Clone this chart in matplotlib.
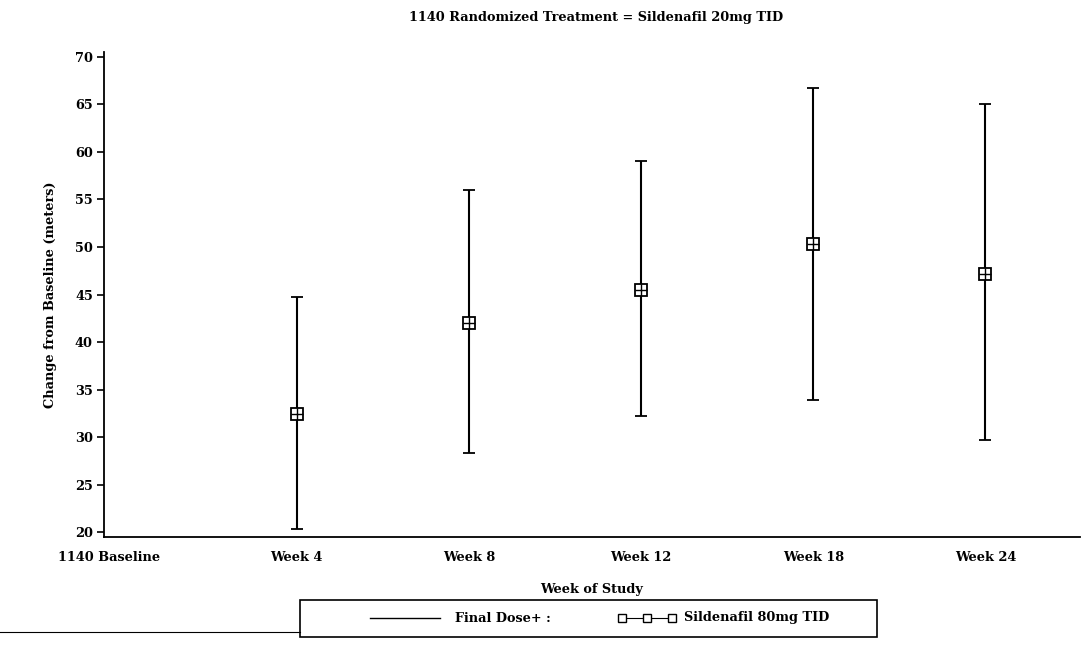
import matplotlib
matplotlib.use("Agg")
import matplotlib.pyplot as plt
from matplotlib.lines import Line2D
from matplotlib.patches import Rectangle
import matplotlib.transforms as mtransforms

categories = ['1140 Baseline', 'Week 4', 'Week 8', 'Week 12', 'Week 18', 'Week 24']
means = [32.4, 42.0, 45.5, 50.3, 47.2]
lower = [20.3, 28.3, 32.2, 33.9, 29.7]
upper = [44.7, 56.0, 59.0, 66.7, 65.0]
yticks = [20, 25, 30, 35, 40, 45, 50, 55, 60, 65, 70]
title = '1140 Randomized Treatment = Sildenafil 20mg TID'
xlabel = 'Week of Study'
ylabel = 'Change from Baseline (meters)'
legend_labels = ['Final Dose+ :', 'Sildenafil 80mg TID']

plt.rcParams['font.family'] = ['DejaVu Serif']
plt.rcParams['font.weight'] = 'bold'

FS = 9.3
W, H = 1087, 647
fig = plt.figure(figsize=(W / 100, H / 100), dpi=100)
ax = fig.add_axes([104 / W, 1 - 537 / H, (1080 - 104) / W, (537 - 52) / H])

xpos = list(range(1, len(categories)))
yerr = [[m - l for m, l in zip(means, lower)], [u - m for m, u in zip(means, upper)]]
ax.errorbar(xpos, means, yerr=yerr, fmt='none', ecolor='black', elinewidth=1.5,
            capsize=4.5, capthick=1.3)
ax.plot(xpos, means, linestyle='none', marker='s', markersize=9,
        markerfacecolor='white', markeredgecolor='black', markeredgewidth=1.3)
ax.plot(xpos, means, linestyle='none', marker='+', markersize=9,
        markeredgecolor='black', markeredgewidth=1.0)

ax.set_xlim(-0.12, 5.55)
ax.set_ylim(19.5, 70.5)
ax.set_xticks(range(len(categories)))
ax.set_xticklabels(categories, fontsize=FS, fontweight='bold')
ax.set_yticks(yticks)
ax.set_yticklabels([str(v) for v in yticks], fontsize=FS, fontweight='bold')
ax.tick_params(axis='x', length=0, pad=10)
ax.tick_params(axis='y', length=5, width=1.2, pad=3)
ax.spines['top'].set_visible(False)
ax.spines['right'].set_visible(False)
ax.spines['left'].set_linewidth(1.3)
ax.spines['bottom'].set_linewidth(1.3)

# the baseline label sits a little left of its category position in the reference
base_lbl = ax.get_xticklabels()[0]
base_lbl.set_transform(base_lbl.get_transform() +
                       mtransforms.ScaledTranslation(-16 / 100, 0, fig.dpi_scale_trans))

ax.set_xlabel(xlabel, fontsize=FS, fontweight='bold', labelpad=14)
ax.set_ylabel(ylabel, fontsize=FS, fontweight='bold', labelpad=13)
fig.text(0.548, 1 - 18 / H, title, ha='center', va='center', fontsize=FS, fontweight='bold')

def fx(x):
    return x / W

def fy(y):
    return 1 - y / H

fig.add_artist(Rectangle((fx(300), fy(637)), fx(877) - fx(300), fy(600) - fy(637),
                         transform=fig.transFigure, fill=False, edgecolor='black', linewidth=1.2))
fig.add_artist(Line2D([fx(0), fx(300)], [fy(632), fy(632)], transform=fig.transFigure,
                      color='black', linewidth=0.8))
fig.add_artist(Line2D([fx(370), fx(440)], [fy(618), fy(618)], transform=fig.transFigure,
                      color='black', linewidth=1.0))
fig.text(fx(455), fy(618), legend_labels[0], ha='left', va='center', fontsize=FS, fontweight='bold')
fig.add_artist(Line2D([fx(622), fx(647), fx(672)], [fy(618)] * 3, transform=fig.transFigure,
                      color='black', linewidth=0.8, marker='s', markersize=5.5,
                      markerfacecolor='white', markeredgecolor='black'))
fig.text(fx(684), fy(618), legend_labels[1], ha='left', va='center', fontsize=FS, fontweight='bold')

fig.savefig('out.png', dpi=100)
